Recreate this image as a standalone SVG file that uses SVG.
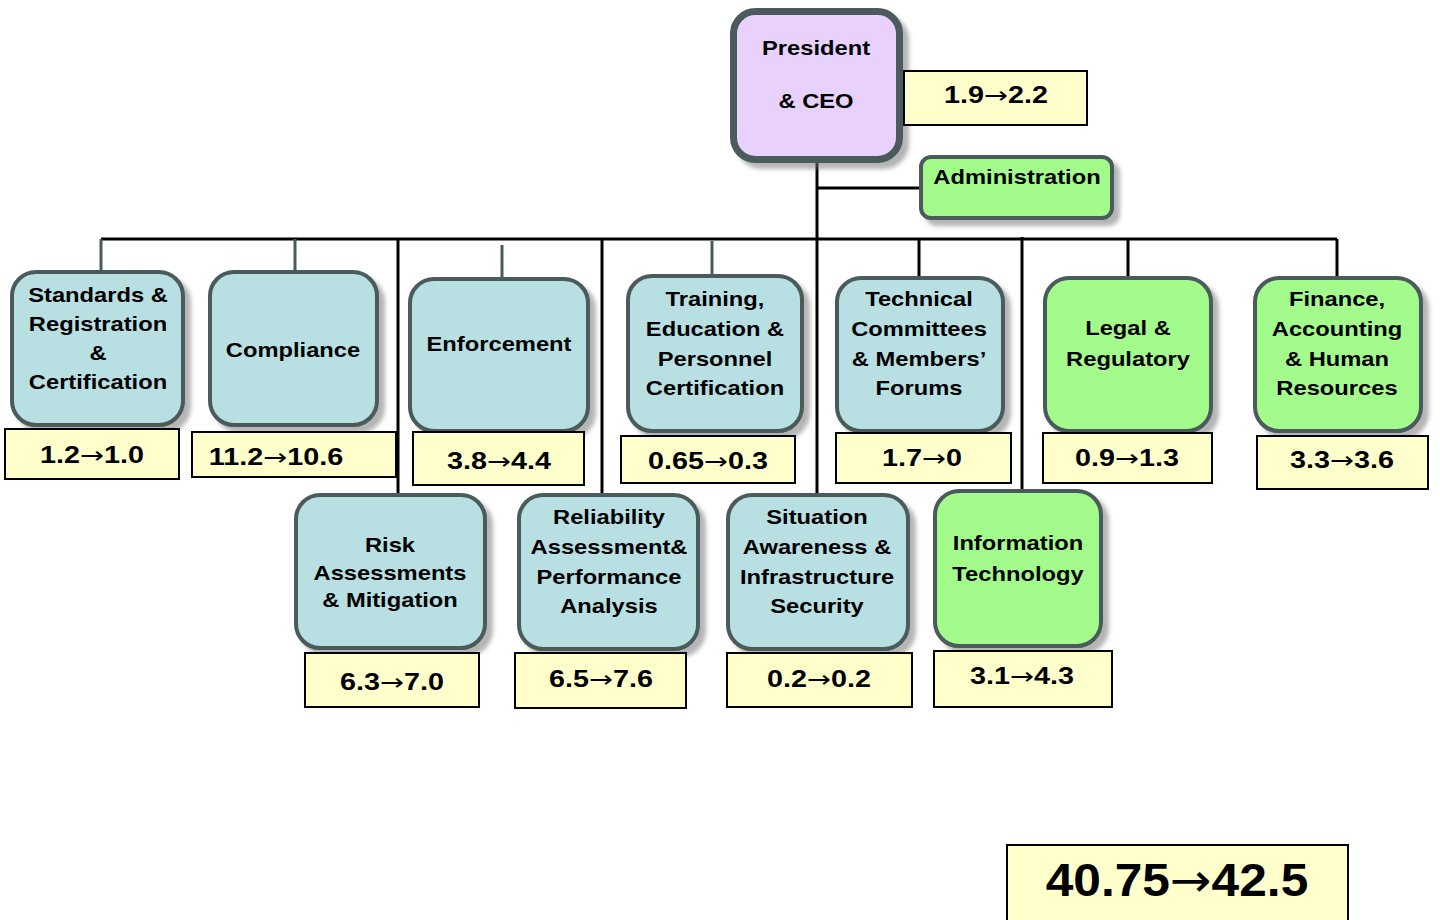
<svg xmlns="http://www.w3.org/2000/svg" width="1440" height="920" viewBox="0 0 1440 920">
<defs>
<filter id="sh" x="-10%" y="-10%" width="130%" height="130%">
<feDropShadow dx="6" dy="6" stdDeviation="2" flood-color="#777" flood-opacity="0.55"/>
</filter>
<style>
.blue{fill:#b8dfe2;stroke:#4b5a5a;stroke-width:4;filter:url(#sh)}
.green{fill:#a2fb8b;stroke:#4b5a5a;stroke-width:4;filter:url(#sh)}
.pres{fill:#e8d2fb;stroke:#4b5a5a;stroke-width:7;filter:url(#sh)}
.val{fill:#ffffcc;stroke:#000;stroke-width:2}
.t{font-family:"Liberation Sans",Arial,sans-serif;font-weight:bold;font-size:21px;text-anchor:middle;fill:#000}
.v{font-family:"Liberation Sans",Arial,sans-serif;font-weight:bold;font-size:23px;text-anchor:middle;fill:#000}
.big{font-family:"Liberation Sans",Arial,sans-serif;font-weight:bold;font-size:46px;text-anchor:middle;fill:#000}
.a{font-family:"DejaVu Sans",sans-serif;font-weight:normal}
.k{fill:none;stroke:#000;stroke-width:3}
.g{fill:none;stroke:#4b5a5a;stroke-width:3}
</style>
</defs>
<rect width="1440" height="920" fill="#fff"/>
<g id="connectors">
<path class="k" d="M817,163 V493 M817,188 H921 M101,239 H1337 M398,239 V493 M602,239 V493 M1022,237 V489 M919,239 V276 M1128,239 V276 M1337,239 V276"/>
<path class="g" d="M101,239 V272 M295,239 V272 M502,245 V279 M712,241 V276"/>
</g>
<g id="president">
<rect class="pres" x="733.5" y="11.5" width="166" height="148" rx="22"/>
<text class="t" transform="translate(816 0) scale(1.13 1)"><tspan x="0" y="55">President</tspan><tspan x="0" y="108">&amp; CEO</tspan></text>
<rect class="val" x="904" y="71" width="183" height="54"/>
<text class="v" transform="translate(996 0) scale(1.25 1)" x="0" y="103">1.9<tspan class="a">→</tspan>2.2</text>
</g>
<g id="administration">
<rect class="green" x="921" y="157" width="191" height="61" rx="10"/>
<text class="t" transform="translate(1017 0) scale(1.13 1)" x="0" y="184">Administration</text>
</g>
<g id="standards">
<rect class="blue" x="12" y="272" width="171" height="153" rx="24"/>
<text class="t" transform="translate(98 0) scale(1.13 1)"><tspan x="0" y="302">Standards &amp;</tspan><tspan x="0" y="331">Registration</tspan><tspan x="0" y="360">&amp;</tspan><tspan x="0" y="389">Certification</tspan></text>
<rect class="val" x="5" y="429" width="174" height="50"/>
<text class="v" transform="translate(92 0) scale(1.25 1)" x="0" y="463">1.2<tspan class="a">→</tspan>1.0</text>
</g>
<g id="compliance">
<rect class="blue" x="210" y="272" width="167" height="153" rx="24"/>
<text class="t" transform="translate(293 0) scale(1.13 1)" x="0" y="357">Compliance</text>
<rect class="val" x="192" y="432" width="204" height="45"/>
<text class="v" transform="translate(276 0) scale(1.25 1)" x="0" y="465">11.2<tspan class="a">→</tspan>10.6</text>
</g>
<g id="enforcement">
<rect class="blue" x="410" y="279" width="178" height="152" rx="24"/>
<text class="t" transform="translate(499 0) scale(1.13 1)" x="0" y="351">Enforcement</text>
<rect class="val" x="413" y="432" width="171" height="53"/>
<text class="v" transform="translate(499 0) scale(1.25 1)" x="0" y="469">3.8<tspan class="a">→</tspan>4.4</text>
</g>
<g id="training">
<rect class="blue" x="628" y="276" width="174" height="155" rx="24"/>
<text class="t" transform="translate(715 0) scale(1.13 1)"><tspan x="0" y="306">Training,</tspan><tspan x="0" y="336">Education &amp;</tspan><tspan x="0" y="366">Personnel</tspan><tspan x="0" y="395">Certification</tspan></text>
<rect class="val" x="621" y="436" width="174" height="47"/>
<text class="v" transform="translate(708 0) scale(1.25 1)" x="0" y="469">0.65<tspan class="a">→</tspan>0.3</text>
</g>
<g id="technical">
<rect class="blue" x="837" y="278" width="166" height="153" rx="24"/>
<text class="t" transform="translate(919 0) scale(1.13 1)"><tspan x="0" y="306">Technical</tspan><tspan x="0" y="336">Committees</tspan><tspan x="0" y="366">&amp; Members’</tspan><tspan x="0" y="395">Forums</tspan></text>
<rect class="val" x="836" y="433" width="175" height="50"/>
<text class="v" transform="translate(922 0) scale(1.25 1)" x="0" y="466">1.7<tspan class="a">→</tspan>0</text>
</g>
<g id="legal">
<rect class="green" x="1045" y="278" width="166" height="153" rx="24"/>
<text class="t" transform="translate(1128 0) scale(1.13 1)"><tspan x="0" y="335">Legal &amp;</tspan><tspan x="0" y="366">Regulatory</tspan></text>
<rect class="val" x="1043" y="433" width="169" height="50"/>
<text class="v" transform="translate(1127 0) scale(1.25 1)" x="0" y="466">0.9<tspan class="a">→</tspan>1.3</text>
</g>
<g id="finance">
<rect class="green" x="1255" y="278" width="166" height="153" rx="24"/>
<text class="t" transform="translate(1337 0) scale(1.13 1)"><tspan x="0" y="306">Finance,</tspan><tspan x="0" y="336">Accounting</tspan><tspan x="0" y="366">&amp; Human</tspan><tspan x="0" y="395">Resources</tspan></text>
<rect class="val" x="1257" y="436" width="171" height="53"/>
<text class="v" transform="translate(1342 0) scale(1.25 1)" x="0" y="468">3.3<tspan class="a">→</tspan>3.6</text>
</g>
<g id="risk">
<rect class="blue" x="296" y="495" width="189" height="153" rx="24"/>
<text class="t" transform="translate(390 0) scale(1.13 1)"><tspan x="0" y="552">Risk</tspan><tspan x="0" y="580">Assessments</tspan><tspan x="0" y="607">&amp; Mitigation</tspan></text>
<rect class="val" x="305" y="653" width="174" height="54"/>
<text class="v" transform="translate(392 0) scale(1.25 1)" x="0" y="690">6.3<tspan class="a">→</tspan>7.0</text>
</g>
<g id="reliability">
<rect class="blue" x="519" y="495" width="179" height="154" rx="24"/>
<text class="t" transform="translate(609 0) scale(1.13 1)"><tspan x="0" y="524">Reliability</tspan><tspan x="0" y="554">Assessment&amp;</tspan><tspan x="0" y="584">Performance</tspan><tspan x="0" y="613">Analysis</tspan></text>
<rect class="val" x="515" y="653" width="171" height="55"/>
<text class="v" transform="translate(601 0) scale(1.25 1)" x="0" y="687">6.5<tspan class="a">→</tspan>7.6</text>
</g>
<g id="situation">
<rect class="blue" x="728" y="495" width="180" height="154" rx="24"/>
<text class="t" transform="translate(817 0) scale(1.13 1)"><tspan x="0" y="524">Situation</tspan><tspan x="0" y="554">Awareness &amp;</tspan><tspan x="0" y="584">Infrastructure</tspan><tspan x="0" y="613">Security</tspan></text>
<rect class="val" x="727" y="653" width="185" height="54"/>
<text class="v" transform="translate(819 0) scale(1.25 1)" x="0" y="687">0.2<tspan class="a">→</tspan>0.2</text>
</g>
<g id="it">
<rect class="green" x="935" y="491" width="166" height="155" rx="24"/>
<text class="t" transform="translate(1018 0) scale(1.13 1)"><tspan x="0" y="550">Information</tspan><tspan x="0" y="581">Technology</tspan></text>
<rect class="val" x="934" y="651" width="178" height="56"/>
<text class="v" transform="translate(1022 0) scale(1.25 1)" x="0" y="684">3.1<tspan class="a">→</tspan>4.3</text>
</g>
<g id="total">
<rect class="val" x="1007" y="845" width="341" height="80"/>
<text class="big" transform="translate(1177 0) scale(1.08 1)" x="0" y="896">40.75<tspan class="a">→</tspan>42.5</text>
</g>
</svg>
